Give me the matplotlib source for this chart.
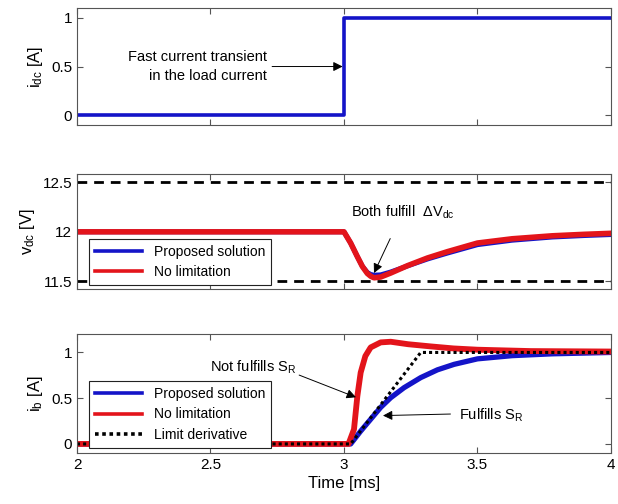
import matplotlib
matplotlib.use("Agg")
import matplotlib.pyplot as plt

plt.rcParams['font.family'] = ['Liberation Sans', 'DejaVu Sans']
plt.rcParams['mathtext.fontset'] = 'custom'
plt.rcParams['mathtext.rm'] = 'Liberation Sans'
plt.rcParams['mathtext.it'] = 'Liberation Sans'

# load current step
t_idc = [2.0, 3.0, 3.0, 4.0]
idc = [0.0, 0.0, 1.0, 1.0]

# dc-link voltage
t_vdc = [2.0, 3.0, 3.025, 3.05, 3.069, 3.0875, 3.1, 3.1125, 3.1375, 3.175, 3.2375,
         3.3125, 3.3875, 3.5, 3.63, 3.78, 3.9, 4.0]
vdc_nolim = [12.0, 12.0, 11.887, 11.75, 11.65, 11.58, 11.552, 11.536, 11.544, 11.584, 11.658,
             11.736, 11.80, 11.887, 11.93, 11.96, 11.975, 11.985]
vdc_prop = [12.0, 12.0, 11.887, 11.75, 11.652, 11.59, 11.57, 11.563, 11.566, 11.595, 11.655,
            11.725, 11.785, 11.87, 11.915, 11.947, 11.962, 11.972]
vdc_limits = [11.5, 12.5]

# battery current
t_ib_nolim = [2.0, 3.017, 3.0375, 3.05, 3.0625, 3.08, 3.1, 3.1375, 3.175, 3.24,
              3.325, 3.41, 3.5, 3.7, 4.0]
ib_nolim = [0.0, 0.0, 0.16, 0.52, 0.78, 0.96, 1.055, 1.11, 1.117, 1.09,
            1.066, 1.044, 1.03, 1.015, 1.01]
t_ib_prop = [2.0, 3.025, 3.0625, 3.1, 3.1375, 3.175, 3.225, 3.2875, 3.35, 3.4125,
             3.5, 3.63, 3.78, 4.0]
ib_prop = [0.0, 0.0, 0.14, 0.27, 0.40, 0.505, 0.615, 0.725, 0.81, 0.87,
           0.93, 0.965, 0.985, 1.0]
t_ib_lim = [2.0, 3.025, 3.2875, 4.0]
ib_lim = [0.0, 0.0, 1.0, 1.0]

xticks = [2, 2.5, 3, 3.5, 4]
blue = '#1414c8'
red = '#e3141b'
axcol = '#555555'

fig = plt.figure(figsize=(6.18, 5.04), dpi=100)
left, width = 0.1246, 0.864
ax1 = fig.add_axes([left, 0.752, width, 0.232])
ax2 = fig.add_axes([left, 0.427, width, 0.228])
ax3 = fig.add_axes([left, 0.101, width, 0.236])

for ax in (ax1, ax2, ax3):
    ax.set_xlim(2, 4)
    ax.set_xticks(xticks)
    ax.tick_params(direction='in', top=True, right=True, labelsize=11,
                   color=axcol, length=4, width=0.8)
    for s in ax.spines.values():
        s.set_color(axcol)
        s.set_linewidth(0.8)

arrow = dict(arrowstyle='-|>', color='black', lw=0.7, mutation_scale=14)

# top panel
ax1.plot(t_idc, idc, color=blue, lw=2.6)
ax1.set_ylim(-0.1, 1.1)
ax1.set_yticks([0, 0.5, 1])
ax1.set_yticklabels(['0', '0.5', '1'])
ax1.set_xticklabels([])
ax1.set_ylabel(r'$\mathregular{i_{dc}}$ [A]', fontsize=12)
ax1.annotate('Fast current transient\nin the load current', xy=(2.995, 0.5),
             xytext=(2.71, 0.5), ha='right', va='center', fontsize=10.5,
             linespacing=1.45,
             arrowprops=dict(arrow, shrinkA=2, shrinkB=0))

# middle panel
for v in vdc_limits:
    ax2.axhline(v, color='black', lw=2, dashes=(3.5, 2.5))
ax2.plot(t_vdc, vdc_prop, color=blue, lw=3.5, label='Proposed solution')
ax2.plot(t_vdc, vdc_nolim, color=red, lw=4, label='No limitation')
ax2.set_ylim(11.425, 12.585)
ax2.set_yticks([11.5, 12, 12.5])
ax2.set_yticklabels(['11.5', '12', '12.5'])
ax2.set_xticklabels([])
ax2.set_ylabel(r'$\mathregular{v_{dc}}$ [V]', fontsize=12)
ax2.annotate(r'Both fulfill  $\Delta\mathregular{V_{dc}}$', xy=(3.1125, 11.584),
             xytext=(3.22, 12.2), ha='center', va='center', fontsize=10.5,
             arrowprops=dict(arrow, shrinkA=12, shrinkB=0))
leg = ax2.legend(loc='lower left', bbox_to_anchor=(0.0225, 0.03), fontsize=10,
                 handlelength=3.4, labelspacing=0.45, borderpad=0.45,
                 borderaxespad=0, fancybox=False, framealpha=1, edgecolor='#222222')
leg.get_frame().set_linewidth(0.8)
for h in leg.get_lines():
    h.set_linewidth(2.6)

# bottom panel
ax3.plot(t_ib_prop, ib_prop, color=blue, lw=3.8, label='Proposed solution')
ax3.plot(t_ib_nolim, ib_nolim, color=red, lw=4.2, label='No limitation')
ax3.plot(t_ib_lim, ib_lim, color='black', lw=2.2, linestyle=(0, (1, 1)),
         label='Limit derivative')
ax3.set_ylim(-0.1, 1.2)
ax3.set_yticks([0, 0.5, 1])
ax3.set_yticklabels(['0', '0.5', '1'])
ax3.set_xticklabels(['2', '2.5', '3', '3.5', '4'])
ax3.set_ylabel(r'$\mathregular{i_{b}}$ [A]', fontsize=12)
ax3.set_xlabel('Time [ms]', fontsize=12, labelpad=3)
ax3.annotate(r'Not fulfills S$_\mathregular{R}$', xy=(3.045, 0.51),
             xytext=(2.66, 0.84), ha='center', va='center', fontsize=10.5,
             arrowprops=dict(arrow, shrinkA=0, shrinkB=0, relpos=(0.95, 0.2)))
ax3.annotate(r'Fulfills S$_\mathregular{R}$', xy=(3.146, 0.31),
             xytext=(3.43, 0.31), ha='left', va='center', fontsize=10.5,
             arrowprops=dict(arrow, shrinkA=4, shrinkB=0, relpos=(0, 0.6)))
leg3 = ax3.legend(loc='lower left', bbox_to_anchor=(0.0225, 0.043), fontsize=10,
                  handlelength=3.4, labelspacing=0.45, borderpad=0.45,
                  borderaxespad=0, fancybox=False, framealpha=1, edgecolor='#222222')
leg3.get_frame().set_linewidth(0.8)
for h in leg3.get_lines():
    h.set_linewidth(2.6)

fig.savefig('out.png', dpi=100)
